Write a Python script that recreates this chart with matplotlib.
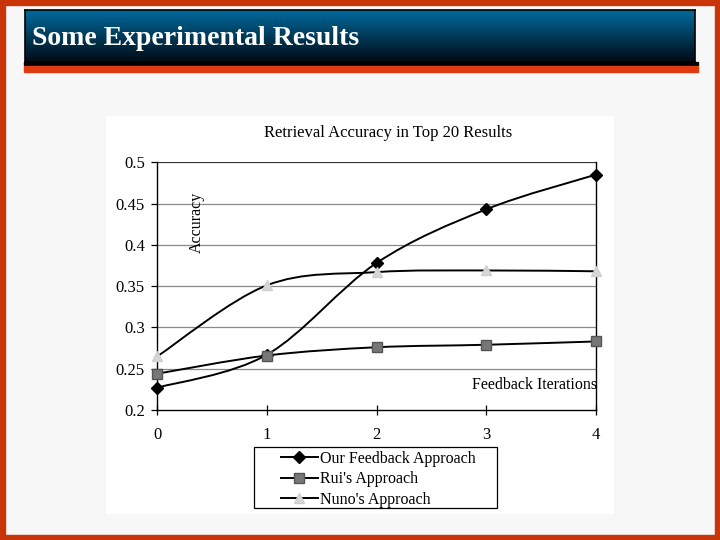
import numpy as np
import matplotlib
matplotlib.use("Agg")
import matplotlib.pyplot as plt
from matplotlib.path import Path
from matplotlib.patches import PathPatch, Rectangle
from matplotlib.lines import Line2D

# data
iterations = [0, 1, 2, 3, 4]
our_feedback = [0.227, 0.267, 0.378, 0.443, 0.485]
rui = [0.244, 0.266, 0.276, 0.279, 0.283]
nuno = [0.265, 0.351, 0.367, 0.369, 0.368]
series_names = ["Our Feedback Approach", "Rui's Approach", "Nuno's Approach"]
y_ticks = [0.2, 0.25, 0.3, 0.35, 0.4, 0.45, 0.5]
y_tick_labels = ["0.2", "0.25", "0.3", "0.35", "0.4", "0.45", "0.5"]

W, H = 720, 540
SERIF = "Liberation Serif"


def rect(x0, y0, x1, y1):
    # pixel box (top-left origin) -> figure fraction rect
    return [x0 / W, 1 - y1 / H, (x1 - x0) / W, (y1 - y0) / H]


def fig_box(x0, y0, x1, y1, **kw):
    fig.patches.append(Rectangle((x0 / W, 1 - y1 / H), (x1 - x0) / W, (y1 - y0) / H,
                                 transform=fig.transFigure, **kw))


def smooth_path(xs, ys):
    # excel style smoothed line: catmull-rom turned into cubic beziers
    pts = np.column_stack([xs, ys]).astype(float)
    ext = np.vstack([pts[0], pts, pts[-1]])
    verts = [tuple(pts[0])]
    codes = [Path.MOVETO]
    for i in range(1, len(ext) - 2):
        p0, p1, p2, p3 = ext[i - 1], ext[i], ext[i + 1], ext[i + 2]
        c1 = p1 + (p2 - p0) / 6.0
        c2 = p2 - (p3 - p1) / 6.0
        verts += [tuple(c1), tuple(c2), tuple(p2)]
        codes += [Path.CURVE4] * 3
    return Path(verts, codes)


fig = plt.figure(figsize=(7.2, 5.4), dpi=100)
fig.patch.set_facecolor("#f7f7f7")

# slide border
border = "#c83508"
for r in [(0, 0, 720, 5), (0, 535, 720, 540), (0, 0, 5, 540), (715, 0, 720, 540)]:
    fig_box(*r, color=border, zorder=-2)

# white scanned-chart area
fig_box(106, 116, 613, 513, color="white", zorder=-1)

# title bar with gradient
bar = fig.add_axes(rect(25, 10, 695, 62))
grad = np.linspace(0, 1, 100).reshape(-1, 1)
top_c = np.array([0.0, 0.42, 0.62])
bot_c = np.array([0.0, 0.04, 0.08])
img = top_c[None, None, :] * (1 - grad[..., None]) + bot_c[None, None, :] * grad[..., None]
bar.imshow(img, aspect="auto", extent=[0, 1, 0, 1])
bar.set_xticks([])
bar.set_yticks([])
for s in bar.spines.values():
    s.set_color("black")
    s.set_linewidth(1.2)
bar.text(0.011, 0.45, "Some Experimental Results", color="white", fontsize=20,
         fontweight="bold", family=SERIF, va="center", ha="left",
         transform=bar.transAxes)

fig_box(24, 62.5, 698, 65, color="black", zorder=2)
fig_box(24, 66, 698, 71.5, color="#e03a10", zorder=2)

ax = fig.add_axes(rect(157.3, 162.3, 595.7, 410))
ax.set_facecolor("none")
ax.set_xlim(0, 4)
ax.set_ylim(0.2, 0.5)
ax.set_xticks(iterations)
ax.set_yticks(y_ticks)
ax.set_yticklabels(y_tick_labels)
ax.tick_params(axis="both", labelsize=12, colors="black", length=4, width=0.9)
ax.tick_params(axis="x", direction="inout", length=7, pad=9)
ax.tick_params(axis="y", pad=5)
for lab in ax.get_xticklabels() + ax.get_yticklabels():
    lab.set_family(SERIF)
for yv in y_ticks[1:]:
    ax.axhline(yv, color="#8a8a8a" if yv < 0.5 else "#333333", lw=0.9, zorder=1)
ax.spines["top"].set_visible(False)
for k in ["left", "right", "bottom"]:
    ax.spines[k].set_color("black")
    ax.spines[k].set_linewidth(1.0)

styles = [
    dict(marker="D", ms=6, mfc="black", mec="black"),
    dict(marker="s", ms=7, mfc="#777777", mec="#555555"),
    dict(marker="^", ms=7, mfc="#d6d6d6", mec="#cfcfcf"),
]
handles = []
for vals, st, name in zip([our_feedback, rui, nuno], styles, series_names):
    ax.add_patch(PathPatch(smooth_path(iterations, vals), fill=False,
                           edgecolor="black", lw=1.4, zorder=3))
    ax.plot(iterations, vals, linestyle="none", zorder=4, clip_on=False, **st)
    handles.append(Line2D([], [], color="black", lw=1.4, **st))

fig.text(197 / W, 1 - 222 / H, "Accuracy", rotation=90, fontsize=11.5,
         family=SERIF, ha="center", va="center")
ax.text(1.004, 0.1, "Feedback Iterations", transform=ax.transAxes, ha="right",
        va="center", fontsize=11.5, family=SERIF)
fig.text(388 / W, 1 - 133 / H, "Retrieval Accuracy in Top 20 Results",
         fontsize=12, family=SERIF, ha="center", va="center")

# legend box drawn separately (it is wider than its contents)
fig_box(254, 447, 497, 508, fill=False, edgecolor="black", lw=0.9, zorder=5)
leg = fig.legend(handles, series_names, loc="upper left",
                 bbox_to_anchor=(281 / W, 1 - 451 / H), frameon=False,
                 prop={"family": SERIF, "size": 11.5}, handlelength=2.3,
                 handletextpad=0.15, labelspacing=0.27, borderpad=0.0,
                 borderaxespad=0)

fig.savefig("out.png", dpi=100, facecolor=fig.get_facecolor())
